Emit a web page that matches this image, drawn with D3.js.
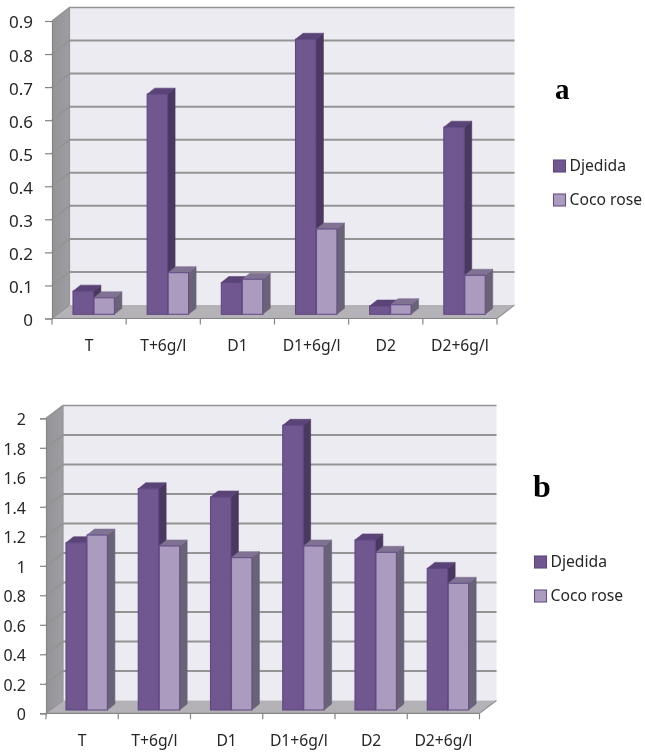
<!DOCTYPE html>
<html><head><meta charset="utf-8">
<script src="https://cdn.jsdelivr.net/npm/d3@7/dist/d3.min.js"></script>
<style>html,body{margin:0;padding:0;background:#fff}svg{display:block;filter:blur(0.35px)}
text{font-family:"Noto Sans",sans-serif;fill:#262626}</style></head>
<body><svg id="c" width="645" height="753"></svg>
<script>
const categories = ["T","T+6g/l","D1","D1+6g/l","D2","D2+6g/l"];
const seriesNames = ["Djedida","Coco rose"];
const djedidaA = [0.07,0.666,0.096,0.832,0.025,0.566];
const cocoRoseA = [0.05,0.126,0.106,0.258,0.029,0.118];
const djedidaB = [1.134,1.50,1.444,1.93,1.153,0.96];
const cocoRoseB = [1.186,1.112,1.033,1.112,1.069,0.859];
const ticksA = [0,0.1,0.2,0.3,0.4,0.5,0.6,0.7,0.8,0.9];
const ticksB = [0,0.2,0.4,0.6,0.8,1,1.2,1.4,1.6,1.8,2];

const svg = d3.select("#c");
const defs = svg.append("defs");
const wallGrad = defs.append("linearGradient").attr("id","leftWall").attr("x1",0).attr("x2",1).attr("y1",0).attr("y2",0);
wallGrad.append("stop").attr("offset",0).attr("stop-color","#949398");
wallGrad.append("stop").attr("offset",1).attr("stop-color","#9e9da2");

const C = {
  back:"#ecebf1", floor:"#b4b2b6", grid:"#949494", axis:"#858585",
  fronts:["#70578f","#ab9bbf"], tops:["#5a4377","#7f7292"], sides:["#4a3860","#6a6277"],
  strokes:["#5e4880","#654f88"]
};

function chart(o){
  const g = svg.append("g");
  const y = d3.scaleLinear().domain([0,o.max]).range([o.y0,o.yTop]);
  const x = d3.scaleBand().domain(categories).range([o.x0,o.x1]);
  const poly = (pts,fill,stroke,sw)=>g.append("polygon")
    .attr("points",pts.map(p=>p.join(",")).join(" "))
    .attr("fill",fill).attr("stroke",stroke||"none").attr("stroke-width",sw||0).attr("stroke-linejoin","round");

  // walls and floor
  poly([[o.x0+o.dx,o.yTop-o.dy],[o.x1+o.dx,o.yTop-o.dy],[o.x1+o.dx,o.y0-o.dy],[o.x0+o.dx,o.y0-o.dy]],C.back);
  poly([[o.x0,o.yTop],[o.x0+o.dx,o.yTop-o.dy],[o.x0+o.dx,o.y0-o.dy],[o.x0,o.y0]],"url(#leftWall)");
  poly([[o.x0,o.y0],[o.x0+o.dx,o.y0-o.dy],[o.x1+o.dx,o.y0-o.dy],[o.x1,o.y0]],C.floor);

  // gridlines
  o.ticks.forEach(t=>{
    if(t>0) g.append("path").attr("fill","none").attr("stroke",C.grid).attr("stroke-width",t===o.max?1.5:2)
      .attr("d",`M${o.x0},${y(t)}L${o.x0+o.dx},${y(t)-o.dy}H${o.x1+o.dx}`);
  });
  g.append("path").attr("fill","none").attr("stroke",C.grid).attr("stroke-width",1.2)
    .attr("d",`M${o.x0+o.dx},${o.yTop-o.dy}V${o.y0-o.dy}`);
  g.append("path").attr("fill","none").attr("stroke",C.grid).attr("stroke-width",1.2)
    .attr("d",`M${o.x0},${o.y0}L${o.x0+o.dx},${o.y0-o.dy}M${o.x1},${o.y0}L${o.x1+o.dx},${o.y0-o.dy}`);

  // bars
  const lift = o.y0 - o.base;
  o.series.forEach((vals,s)=>{
    categories.forEach((c,i)=>{
      const xl = x(c)+o.pad+s*o.bw, xr = xl+o.bw-0.6;
      const top = y(vals[i])-lift, bot = o.base;
      poly([[xr,top],[xr+o.bd,top-o.bh],[xr+o.bd,bot-o.bh],[xr,bot]],C.sides[s],C.sides[s],0.6);
      poly([[xl,top],[xl+o.bd,top-o.bh],[xr+o.bd,top-o.bh],[xr,top]],C.tops[s],C.tops[s],0.6);
      g.append("rect").attr("x",xl).attr("y",top).attr("width",xr-xl).attr("height",Math.max(bot-top,0))
        .attr("fill",C.fronts[s]).attr("stroke",C.strokes[s]).attr("stroke-width",1.1);
    });
  });

  // axes
  const yAxis = d3.axisLeft(y).tickValues(o.ticks).tickFormat(d=>String(d)).tickSize(o.tick).tickPadding(o.yPad);
  const ya = g.append("g").attr("transform",`translate(${o.x0},0)`).call(yAxis);
  ya.select(".domain").attr("stroke",C.axis).attr("stroke-width",1.2);
  ya.selectAll("line").attr("stroke",C.axis).attr("stroke-width",1.2);
  ya.selectAll("text").attr("font-size",o.fs).attr("fill","#262626").attr("y",1.5);

  const edges = d3.range(categories.length+1).map(i=>o.x0+i*x.bandwidth());
  g.append("path").attr("fill","none").attr("stroke",C.axis).attr("stroke-width",1.2)
    .attr("d",`M${o.x0},${o.y0}H${o.x1}`+edges.map(e=>`M${e},${o.y0}v6`).join(""));

  const xAxis = d3.axisBottom(x).tickSize(0).tickPadding(o.xPad);
  const xa = g.append("g").attr("transform",`translate(0,${o.y0})`).call(xAxis);
  xa.select(".domain").remove();
  xa.selectAll("text").attr("font-size",o.fsX).attr("fill","#262626");

  // legend
  seriesNames.forEach((n,i)=>{
    const ly = o.legY + i*o.legGap;
    g.append("rect").attr("x",o.legX).attr("y",ly).attr("width",12).attr("height",12)
      .attr("fill",C.fronts[i]).attr("stroke",C.strokes[i]).attr("stroke-width",1.1);
    g.append("text").attr("x",o.legX+16).attr("y",ly+5.5).attr("dy","0.35em").attr("font-size",o.fsX).text(n);
  });

  // panel letter
  g.append("text").attr("x",o.letX).attr("y",o.letY).attr("font-size",o.letFs)
    .style("font-family","'Liberation Serif',serif").attr("font-weight","bold").style("fill","#000").text(o.letter);
}

chart({series:[djedidaA,cocoRoseA],ticks:ticksA,max:0.9,x0:52,x1:497,y0:318.5,yTop:21,dx:17.5,dy:13.5,
  base:314.3,pad:21,bw:21,bd:7.5,bh:6,fs:17,fsX:15.7,xPad:21,tick:7,yPad:12,
  legX:553.5,legY:160,legGap:34,letter:"a",letX:555,letY:99,letFs:29});
chart({series:[djedidaB,cocoRoseB],ticks:ticksB,max:2,x0:46,x1:479.5,y0:713.3,yTop:418.3,dx:17,dy:12.7,
  base:710,pad:20,bw:21,bd:7.5,bh:6,fs:16,fsX:15.7,xPad:22,tick:6,yPad:14,
  legX:534.5,legY:556,legGap:34,letter:"b",letX:533,letY:497,letFs:32});
</script></body></html>
